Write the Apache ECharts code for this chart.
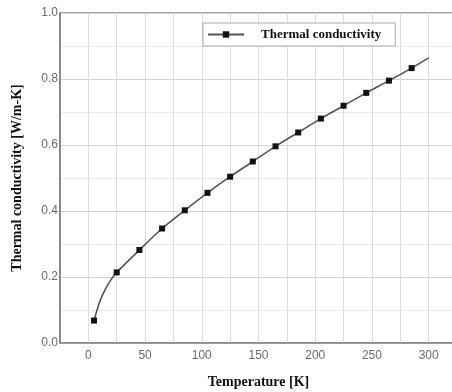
<!DOCTYPE html>
<html><head><meta charset="utf-8">
<script src="https://cdn.jsdelivr.net/npm/echarts@6/dist/echarts.min.js"></script>
<style>html,body{margin:0;padding:0;background:#fff}#c{width:452px;height:392px}</style>
</head><body><div id="c"></div>
<script>
// Measured points (with markers)
var temps = [5, 25, 45, 65, 85, 105, 125, 145, 165, 185, 205, 225, 245, 265, 285];
var kvals = [0.068, 0.214, 0.282, 0.347, 0.402, 0.455, 0.504, 0.550, 0.596, 0.638, 0.680, 0.719, 0.758, 0.795, 0.833];
// Extra curve points (no markers)
var curveT = [10, 15, 20, 300];
var curveK = [0.125, 0.163, 0.192, 0.864];
var xTicks = [0, 50, 100, 150, 200, 250, 300];
var yTicks = [0.0, 0.2, 0.4, 0.6, 0.8, 1.0];

var pts = [];
temps.forEach(function (t, i) { pts.push({ value: [t, kvals[i]] }); });
curveT.forEach(function (t, i) { pts.push({ value: [t, curveK[i]], symbol: 'none' }); });
pts.sort(function (a, b) { return a.value[0] - b.value[0]; });

var serif = '"Liberation Serif", "DejaVu Serif", serif';
var chart = echarts.init(document.getElementById('c'));
chart.setOption({
  animation: false,
  backgroundColor: '#fff',
  grid: { left: 60, top: 13, right: -5, bottom: 49, show: true, borderColor: '#8a8a8a', borderWidth: 1.5,
    backgroundColor: 'transparent', outerBoundsMode: 'none', containLabel: false },
  legend: {
    data: ['Thermal conductivity'],
    left: 203, top: 23,
    backgroundColor: '#fff', borderColor: '#aaa', borderWidth: 1, borderRadius: 0,
    padding: [5, 14, 5, 4],
    itemWidth: 36, itemHeight: 8, itemGap: 10,
    textStyle: { fontFamily: serif, fontWeight: 'bold', fontSize: 13, color: '#111', padding: [0, 0, 0, 12] }
  },
  xAxis: {
    type: 'value', min: -25, max: 325, interval: 25,
    name: 'Temperature [K]', nameLocation: 'middle', nameGap: 32,
    nameTextStyle: { fontFamily: serif, fontWeight: 'bold', fontSize: 14, color: '#111' },
    axisLine: { show: true, onZero: false, lineStyle: { color: '#888', width: 1.5 } },
    axisTick: { show: false },
    axisLabel: { color: '#6a6a6a', fontSize: 12, fontFamily: 'Liberation Sans, Arial', margin: 7,
      formatter: function (v) { return xTicks.indexOf(v) >= 0 ? String(v) : ''; } },
    splitLine: { show: true, lineStyle: { color: '#dcdcdc', width: 1 } }
  },
  yAxis: {
    type: 'value', min: 0, max: 1, interval: 0.2,
    name: 'Thermal conductivity [W/m-K]', nameLocation: 'middle', nameGap: 36,
    nameTextStyle: { fontFamily: serif, fontWeight: 'bold', fontSize: 14, color: '#111' },
    axisLine: { show: true, onZero: false, lineStyle: { color: '#777', width: 1.5 } },
    axisTick: { show: false },
    axisLabel: { color: '#6a6a6a', fontSize: 12, fontFamily: 'Liberation Sans, Arial', margin: 2,
      formatter: function (v) { return v.toFixed(1); } },
    splitLine: { show: true, lineStyle: { color: '#d4d4d4', width: 1.2 } },
    minorTick: { show: false, splitNumber: 2 },
    minorSplitLine: { show: true, lineStyle: { color: '#ebebeb', width: 1 } }
  },
  series: [{
    name: 'Thermal conductivity', type: 'line', smooth: 0.3,
    data: pts,
    symbol: 'rect', symbolSize: 6,
    itemStyle: { color: '#111' },
    lineStyle: { color: '#555', width: 1.6 }
  }]
});
</script></body></html>
